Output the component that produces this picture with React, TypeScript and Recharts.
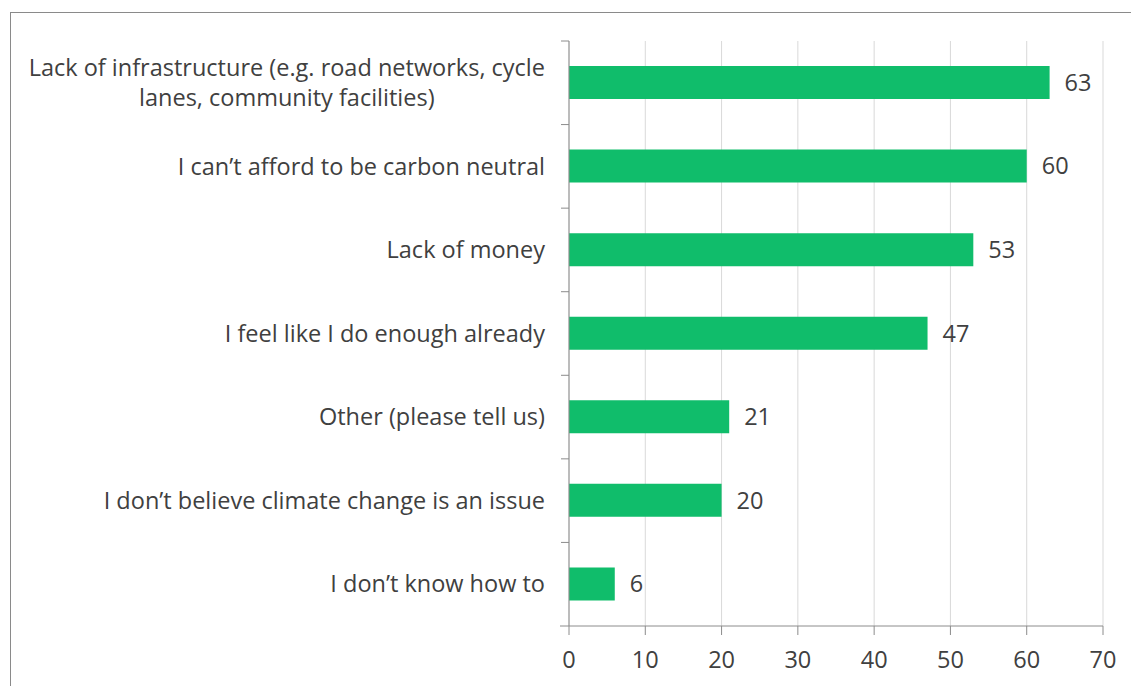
import React from "react"
import { Bar, BarChart, XAxis, YAxis, CartesianGrid, LabelList } from "recharts"

const categories = [
    "Lack of infrastructure (e.g. road networks, cycle\nlanes, community facilities)",
    "I can\u2019t afford to be carbon neutral",
    "Lack of money",
    "I feel like I do enough already",
    "Other (please tell us)",
    "I don\u2019t believe climate change is an issue",
    "I don\u2019t know how to",
]
const values = [63, 60, 53, 47, 21, 20, 6]
const xTicks = [0, 10, 20, 30, 40, 50, 60, 70]

const data = categories.map((name, i) => ({ name, value: values[i] }))

const W = 1131
const H = 686
const TOP = 41
const BOTTOM = 60
const YAXIS_W = 569
const FONT = "'Open Sans', sans-serif"
const FS = 23.5
const TEXT = "#404040"
const AXIS = "#8c8c8c"
const BAND = (H - TOP - BOTTOM) / categories.length

const measure = (s: string) => {
    const ctx = document.createElement("canvas").getContext("2d")
    if (!ctx) return s.length * FS * 0.45
    ctx.font = `${FS}px 'Open Sans'`
    return ctx.measureText(s).width
}

const CategoryTick = ({ y, payload, index }: any) => {
    const lines = String(payload.value).split("\n")
    const right = YAXIS_W - 24
    const w0 = measure(lines[0])
    const lh = 30
    return (
        <g>
            <line x1={YAXIS_W - 8} x2={YAXIS_W} y1={y - BAND / 2} y2={y - BAND / 2} stroke={AXIS} />
            {index === categories.length - 1 && (
                <line x1={YAXIS_W - 9} x2={YAXIS_W} y1={y + BAND / 2} y2={y + BAND / 2} stroke={AXIS} />
            )}
            {lines.map((l, i) => {
                const shift = i === 0 ? 0 : (w0 - measure(l)) / 2
                return (
                    <text
                        key={i}
                        x={right - shift}
                        y={y + (i - (lines.length - 1) / 2) * lh}
                        dy="0.35em"
                        textAnchor="end"
                        fontSize={FS}
                        fontFamily={FONT}
                        fill={TEXT}
                    >
                        {l}
                    </text>
                )
            })}
        </g>
    )
}

export default function App() {
    return (
        <div style={{ position: "absolute", left: 0, top: 0, width: W, height: H, background: "#fff" }}>
            <div style={{ position: "absolute", left: 10, top: 12, right: 0, bottom: 0, borderTop: "1px solid #8a8a8a", borderLeft: "1px solid #8a8a8a" }} />
            <BarChart
                width={W}
                height={H}
                data={data}
                layout="vertical"
                margin={{ top: TOP, right: 28, bottom: 0, left: 0 }}
                style={{ position: "absolute", left: 0, top: 0 }}
            >
                <CartesianGrid horizontal={false} stroke="#d9d9d9" />
                <XAxis
                    type="number"
                    domain={[0, 70]}
                    ticks={xTicks}
                    interval={0}
                    height={BOTTOM}
                    axisLine={{ stroke: AXIS }}
                    tickLine={{ stroke: AXIS }}
                    tickSize={9}
                    tickMargin={16}
                    tick={{ fontSize: FS, fontFamily: FONT, fill: TEXT }}
                />
                <YAxis
                    type="category"
                    dataKey="name"
                    width={YAXIS_W}
                    axisLine={{ stroke: AXIS }}
                    tickLine={false}
                    interval={0}
                    tick={<CategoryTick />}
                />
                <Bar dataKey="value" fill="#10bd6b" barSize={33} isAnimationActive={false}>
                    <LabelList dataKey="value" position="right" offset={15} fontSize={FS} fontFamily={FONT} fill={TEXT} />
                </Bar>
            </BarChart>
        </div>
    )
}
